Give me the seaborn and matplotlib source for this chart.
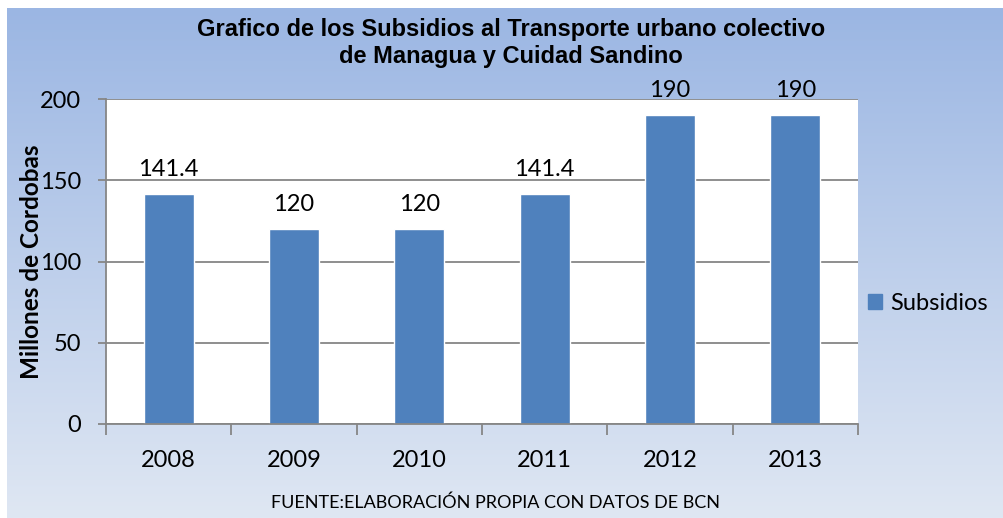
import numpy as np
import pandas as pd
import matplotlib
matplotlib.use("Agg")
import matplotlib.pyplot as plt
import seaborn as sns

years = ["2008", "2009", "2010", "2011", "2012", "2013"]
subsidios = [141.4, 120, 120, 141.4, 190, 190]
bar_labels = ["141.4", "120", "120", "141.4", "190", "190"]
y_ticks = [0, 50, 100, 150, 200]

df = pd.DataFrame({"Año": years, "Subsidios": subsidios})

sns.set_style("white")
plt.rcParams["font.family"] = ["Lato", "DejaVu Sans"]
plt.rcParams["text.color"] = "black"
plt.rcParams["xtick.color"] = "black"
plt.rcParams["ytick.color"] = "black"
plt.rcParams["axes.labelcolor"] = "black"

fig = plt.figure(figsize=(10.04, 5.18), dpi=100)
fig.patch.set_facecolor("white")

# gradient background of the chart area
bg = fig.add_axes([7 / 1004, 0, 997 / 1004, 510 / 518], zorder=0)
top = np.array([0x9b, 0xb6, 0xe3]) / 255
bot = np.array([0xdf, 0xe7, 0xf3]) / 255
t = np.linspace(0, 1, 256)[:, None]
grad = (top * (1 - t) + bot * t)[:, None, :]
bg.imshow(grad, aspect="auto", extent=[0, 1, 0, 1])
bg.axis("off")

ax = fig.add_axes([106 / 1004, 1 - 424 / 518, 752 / 1004, 325 / 518], zorder=1)
ax.set_facecolor("white")
sns.barplot(data=df, x="Año", y="Subsidios", color="#4f81bd", width=0.4,
            saturation=1, ax=ax, zorder=2)
ax.bar_label(ax.containers[0], labels=bar_labels, padding=10, fontsize=17)

ax.set_ylim(0, 200)
ax.set_xlim(-0.5, 5.5)
ax.set_yticks(y_ticks)
ax.set_yticklabels([str(v) for v in y_ticks], fontsize=17)
ax.yaxis.grid(True, color="#868686", linewidth=1.3, zorder=0)
ax.set_axisbelow(True)
ax.set_xticks(range(len(years)))
ax.set_xticklabels(years, fontsize=17)
ax.tick_params(axis="x", length=0, pad=19)
ax.tick_params(axis="y", length=6, width=1.3, color="#868686", left=True, pad=12)
ax.set_xticks(np.arange(-0.5, 6, 1), minor=True)
ax.tick_params(axis="x", which="minor", length=8, width=1.3, color="#868686",
               bottom=True, direction="out")
for side in ["top", "right"]:
    ax.spines[side].set_visible(False)
for side in ["left", "bottom"]:
    ax.spines[side].set_color("#868686")
    ax.spines[side].set_linewidth(1.3)
ax.set_xlabel("")
ax.set_ylabel("Millones de Cordobas", fontsize=17.5, fontweight="bold", labelpad=-2.5)

handle = plt.Rectangle((0, 0), 1, 1, color="#4f81bd")
fig.legend([handle], ["Subsidios"], loc="center left",
           bbox_to_anchor=(868 / 1004, 1 - 303 / 518), frameon=False, borderpad=0,
           borderaxespad=0, fontsize=17, handlelength=0.6, handleheight=0.6,
           handletextpad=0.35)

fig.text(511 / 1004, 1 - 43 / 518,
         "Grafico de los Subsidios al Transporte urbano colectivo\nde Managua y Cuidad Sandino",
         ha="center", va="center", fontsize=17, fontweight="bold",
         family=["Liberation Sans", "DejaVu Sans"], linespacing=1.25)
fig.text(496 / 1004, 1 - 503 / 518, "FUENTE:ELABORACIÓN PROPIA CON DATOS DE BCN",
         ha="center", va="center", fontsize=13)

fig.savefig("out.png", dpi=100)
